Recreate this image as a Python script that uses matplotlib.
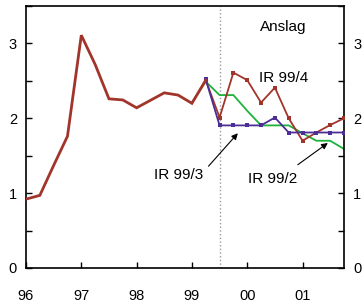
import numpy as np
import matplotlib
matplotlib.use("Agg")
import matplotlib.pyplot as plt

plt.rcParams['font.family'] = ['Liberation Sans', 'DejaVu Sans']

# quarterly history (utfall), 96Q1 .. 99Q2
hist_x = [1996.0, 1996.25, 1996.5, 1996.75, 1997.0, 1997.25, 1997.5, 1997.75,
          1998.0, 1998.25, 1998.5, 1998.75, 1999.0, 1999.25]
hist_y = [0.92, 0.97, 1.37, 1.76, 3.11, 2.72, 2.26, 2.245,
          2.14, 2.24, 2.34, 2.31, 2.20, 2.51]

# forecasts
ir994_x = [1999.25, 1999.5, 1999.75, 2000.0, 2000.25, 2000.5, 2000.75,
           2001.0, 2001.25, 2001.5, 2001.75]
ir994_y = [2.51, 2.01, 2.61, 2.51, 2.21, 2.41, 2.00, 1.70, 1.81, 1.91, 2.00]

ir993_x = [1999.25, 1999.5, 1999.75, 2000.0, 2000.25, 2000.5, 2000.75,
           2001.0, 2001.25, 2001.5, 2001.75]
ir993_y = [2.52, 1.905, 1.905, 1.905, 1.905, 2.01, 1.81, 1.81, 1.81, 1.81, 1.81]

ir992_x = [1999.0, 1999.25, 1999.5, 1999.75, 2000.0, 2000.25, 2000.5, 2000.75,
           2001.0, 2001.25, 2001.5, 2001.75]
ir992_y = [2.21, 2.49, 2.31, 2.31, 2.10, 1.905, 1.905, 1.905, 1.80, 1.70, 1.70, 1.59]

years = [1996, 1997, 1998, 1999, 2000, 2001]
year_labels = ['96', '97', '98', '99', '00', '01']

red = '#a2352b'
blue = '#4b2e96'
green = '#1db33b'

fig = plt.figure(figsize=(3.63, 3.08), dpi=100)
ax = fig.add_axes([0.0716, 0.1299, 0.8761, 0.8506])

ax.axvline(1999.5, color='#999999', linestyle=':', linewidth=1.0, zorder=1)

ax.plot(ir992_x, ir992_y, color=green, linewidth=1.3, zorder=2)
ax.plot(ir994_x, ir994_y, color=red, linewidth=1.3, marker='s',
        markersize=3.2, markeredgewidth=0, zorder=3)
ax.plot(ir993_x, ir993_y, color=blue, linewidth=1.3, marker='s',
        markersize=3.2, markeredgewidth=0, zorder=4)
ax.plot(hist_x, hist_y, color=red, linewidth=2.0, zorder=5,
        solid_joinstyle='miter')

ax.set_xlim(1996, 2001.75)
ax.set_ylim(0, 3.5)
ax.set_xticks(years)
ax.set_xticklabels(year_labels)
ax.set_yticks([0, 1, 2, 3])
ax.set_yticks([0.5, 1.5, 2.5, 3.5], minor=True)

ax.tick_params(axis='both', which='both', direction='in', labelsize=10.5,
               width=1.0, color='black')
ax.tick_params(axis='y', which='both', length=4, right=True,
               labelright=True, pad=6.5)
ax.tick_params(axis='x', which='major', length=4, pad=15)
for sp in ax.spines.values():
    sp.set_linewidth(1.2)

ax.text(2000.23, 3.22, 'Anslag', fontsize=11, va='center')
ax.text(2000.21, 2.54, 'IR 99/4', fontsize=11, va='center')

ax.text(1999.2, 1.245, 'IR 99/3', fontsize=11, ha='right', va='center')
ax.annotate('', xy=(1999.83, 1.80), xytext=(1999.3, 1.36),
            arrowprops=dict(arrowstyle='-|>', color='black', lw=0.8,
                            mutation_scale=9, shrinkA=0, shrinkB=0))
ax.text(2000.01, 1.19, 'IR 99/2', fontsize=11, ha='left', va='center')
ax.annotate('', xy=(2001.457, 1.67), xytext=(2000.915, 1.38),
            arrowprops=dict(arrowstyle='-|>', color='black', lw=0.8,
                            mutation_scale=9, shrinkA=0, shrinkB=0))

fig.savefig('out.png', dpi=100)
